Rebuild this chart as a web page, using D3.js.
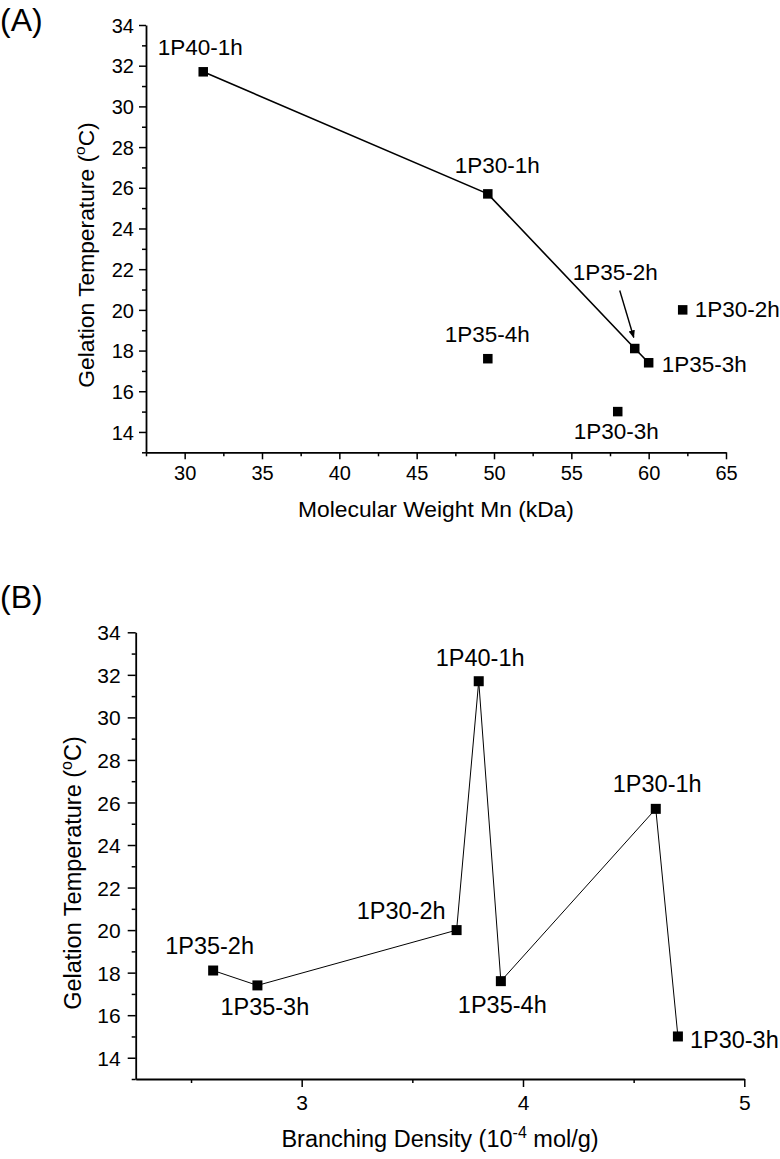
<!DOCTYPE html>
<html>
<head>
<meta charset="utf-8">
<script src="https://cdn.jsdelivr.net/npm/d3@7"></script>
<style>
  html, body { margin: 0; padding: 0; background: #fff; }
  svg { display: block; font-family: "Liberation Sans", Arial, sans-serif; }
</style>
</head>
<body>
<svg id="chart" width="780" height="1159"></svg>
<script>
// ---------------- DATA ----------------
const samples       = ["1P40-1h", "1P30-1h", "1P35-2h", "1P35-3h", "1P30-2h", "1P35-4h", "1P30-3h"];
const mnKDa         = [31.2, 49.6, 59.1, 60.0, 62.2, 49.6, 58.0];
const gelTemp       = [31.7, 25.7, 18.1, 17.4, 20.0, 17.6, 15.0];
const branchDensity = [3.8, 4.6, 2.6, 2.8, 3.7, 3.9, 4.7];
const lineSamplesA  = ["1P40-1h", "1P30-1h", "1P35-2h", "1P35-3h"];

const tempTicks   = [14, 16, 18, 20, 22, 24, 26, 28, 30, 32, 34];
const tempMinor   = [13, 15, 17, 19, 21, 23, 25, 27, 29, 31, 33];
const mnTicks     = [30, 35, 40, 45, 50, 55, 60, 65];
const mnMinor     = [27.5, 32.5, 37.5, 42.5, 47.5, 52.5, 57.5, 62.5];
const bdTicks     = [3, 4, 5];
const bdMinor     = [2.5, 3.5, 4.5];

// ---------------- LAYOUT / STYLE ----------------
const labelOffA = {
  "1P40-1h": {dx: -3,  dy: -17, anchor: "middle"},
  "1P30-1h": {dx: -33, dy: -21, anchor: "start"},
  "1P35-2h": {dx: -62, dy: -69, anchor: "start"},
  "1P35-3h": {dx: 13,  dy: 9,   anchor: "start"},
  "1P30-2h": {dx: 12,  dy: 7,   anchor: "start"},
  "1P35-4h": {dx: -43, dy: -17, anchor: "start"},
  "1P30-3h": {dx: -44, dy: 27,  anchor: "start"}
};
const labelOffB = {
  "1P40-1h": {dx: -43, dy: -15, anchor: "start"},
  "1P30-1h": {dx: -43, dy: -17, anchor: "start"},
  "1P35-2h": {dx: -48, dy: -17, anchor: "start"},
  "1P35-3h": {dx: -37, dy: 30,  anchor: "start"},
  "1P30-2h": {dx: -11, dy: -11, anchor: "end"},
  "1P35-4h": {dx: -43, dy: 32,  anchor: "start"},
  "1P30-3h": {dx: 12,  dy: 12,  anchor: "start"}
};

const svg = d3.select("#chart");
const defs = svg.append("defs");
defs.append("marker")
  .attr("id", "arrow").attr("viewBox", "0 0 10 10")
  .attr("refX", 9).attr("refY", 5)
  .attr("markerWidth", 8).attr("markerHeight", 8)
  .attr("markerUnits", "userSpaceOnUse")
  .attr("orient", "auto")
  .append("path").attr("d", "M0,1 L10,5 L0,9 Z").attr("fill", "#000");

const rows = samples.map((s, i) => ({name: s, mn: mnKDa[i], t: gelTemp[i], bd: branchDensity[i]}));

function drawPanel(cfg) {
  const g = svg.append("g");
  const x = d3.scaleLinear().domain(cfg.xDomain).range(cfg.xRange);
  const y = d3.scaleLinear().domain([13, 34]).range(cfg.yRange);
  const x0 = cfg.xRange[0], yB = cfg.yRange[0];

  // minor ticks
  g.append("g").attr("transform", `translate(0,${yB})`)
    .call(d3.axisBottom(x).tickValues(cfg.xMinor).tickSize(cfg.minorLen).tickSizeOuter(0).tickFormat(""))
    .call(a => a.select(".domain").remove());
  g.append("g").attr("transform", `translate(${x0},0)`)
    .call(d3.axisLeft(y).tickValues(tempMinor).tickSize(cfg.minorLen).tickSizeOuter(0).tickFormat(""))
    .call(a => a.select(".domain").remove());

  // major axes
  const xa = g.append("g").attr("transform", `translate(0,${yB})`)
    .call(d3.axisBottom(x).tickValues(cfg.xTicks).tickSize(cfg.majorLen).tickSizeOuter(0).tickPadding(cfg.xPad).tickFormat(d3.format("")));
  const ya = g.append("g").attr("transform", `translate(${x0},0)`)
    .call(d3.axisLeft(y).tickValues(tempTicks).tickSize(cfg.majorLen).tickSizeOuter(0).tickPadding(cfg.yPad));
  [xa, ya].forEach(a => {
    a.selectAll("text").attr("font-size", cfg.tickFont).attr("fill", "#000")
      .attr("font-family", "Liberation Sans, Arial, sans-serif");
  });
  ya.selectAll("text").attr("dy", "0.36em");
  g.selectAll(".tick line").attr("stroke", "#000").attr("stroke-width", 1.5);
  g.selectAll(".domain").attr("stroke", "#000").attr("stroke-width", 1.8);

  // line
  const line = d3.line().x(d => x(d[cfg.xKey])).y(d => y(d.t));
  g.append("path").datum(cfg.lineRows)
    .attr("d", line).attr("fill", "none").attr("stroke", "#000").attr("stroke-width", cfg.lineW);

  // markers
  g.selectAll("rect.pt").data(rows).join("rect")
    .attr("x", d => x(d[cfg.xKey]) - cfg.ms / 2)
    .attr("y", d => y(d.t) - cfg.ms / 2)
    .attr("width", cfg.ms).attr("height", cfg.ms).attr("fill", "#000");

  // point labels
  g.selectAll("text.lbl").data(rows).join("text")
    .attr("x", d => x(d[cfg.xKey]) + cfg.offs[d.name].dx)
    .attr("y", d => y(d.t) + cfg.offs[d.name].dy)
    .attr("text-anchor", d => cfg.offs[d.name].anchor)
    .attr("font-size", cfg.lblFont).attr("fill", "#000")
    .text(d => d.name);

  // axis titles
  const xt = g.append("text").attr("x", (cfg.xRange[0] + cfg.xRange[1]) / 2).attr("y", cfg.xTitleY)
    .attr("text-anchor", "middle").attr("font-size", cfg.titleFont);
  cfg.xTitle(xt);
  const yt = g.append("text")
    .attr("transform", `translate(${cfg.yTitleX},${cfg.yTitleCY}) rotate(-90)`)
    .attr("text-anchor", "middle").attr("font-size", cfg.titleFont);
  yt.append("tspan").text("Gelation Temperature (");
  yt.append("tspan").attr("font-size", cfg.titleFont * 0.68).attr("dy", -cfg.titleFont * 0.38).text("o");
  yt.append("tspan").attr("dy", cfg.titleFont * 0.38).text("C)");

  // panel label
  g.append("text").attr("x", 0).attr("y", cfg.panelY).attr("font-size", 32).text(cfg.panel);
  return {x, y, g};
}

const A = drawPanel({
  panel: "(A)", panelY: 31,
  xKey: "mn", xDomain: [27.5, 65], xRange: [146, 726], yRange: [452.3, 25],
  xTicks: mnTicks, xMinor: mnMinor,
  majorLen: 7, minorLen: 4, xPad: 7, yPad: 5,
  tickFont: 20, lblFont: 22.5, titleFont: 22.8,
  lineRows: lineSamplesA.map(n => rows.find(r => r.name === n)), lineW: 1.6,
  ms: 9.5, offs: labelOffA,
  xTitleY: 517, yTitleX: 94, yTitleCY: 255,
  xTitle: t => t.text("Molecular Weight Mn (kDa)")
});

// arrow pointing to 1P35-2h in panel A
const p2 = rows.find(r => r.name === "1P35-2h");
A.g.append("line")
  .attr("x1", A.x(p2.mn) - 15).attr("y1", A.y(p2.t) - 58)
  .attr("x2", A.x(p2.mn) - 1).attr("y2", A.y(p2.t) - 11)
  .attr("stroke", "#000").attr("stroke-width", 1.4).attr("marker-end", "url(#arrow)");

drawPanel({
  panel: "(B)", panelY: 608,
  xKey: "bd", xDomain: [2.25, 5], xRange: [135.7, 744.3], yRange: [1079, 632.3],
  xTicks: bdTicks, xMinor: bdMinor,
  majorLen: 8, minorLen: 4, xPad: 8, yPad: 7,
  tickFont: 21, lblFont: 23.5, titleFont: 23.5,
  lineRows: rows.slice().sort((a, b) => a.bd - b.bd), lineW: 1,
  ms: 10, offs: labelOffB,
  xTitleY: 1147, yTitleX: 81, yTitleCY: 873,
  xTitle: t => {
    t.append("tspan").text("Branching Density (10");
    t.append("tspan").attr("font-size", 23.5 * 0.68).attr("dy", -23.5 * 0.4).text("-4");
    t.append("tspan").attr("dy", 23.5 * 0.4).text(" mol/g)");
  }
});
</script>
</body>
</html>
